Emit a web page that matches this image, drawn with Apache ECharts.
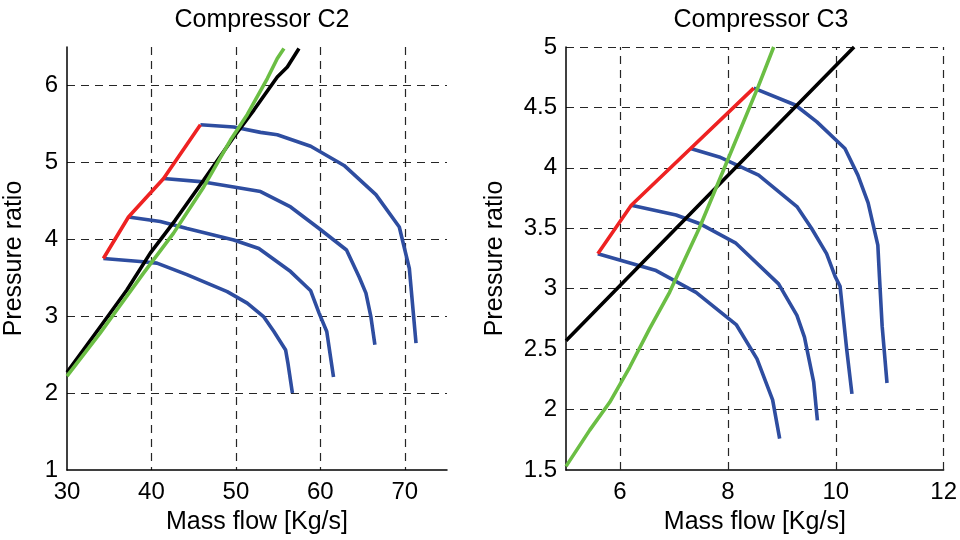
<!DOCTYPE html>
<html><head><meta charset="utf-8">
<script src="https://cdn.jsdelivr.net/npm/echarts@6/dist/echarts.min.js"></script>
<style>html,body{margin:0;padding:0;background:#fff}#c{width:960px;height:540px}</style>
</head><body><div id="c"></div>
<script>
// ---- Compressor C2 (left) ----
const c2Speed1 = [[34.31,3.75],[38.67,3.71],[40.65,3.69],[44.2,3.54],[48.97,3.32],[51.34,3.17],[53.31,2.99],[54.5,2.80],[55.89,2.56],[56.16,2.39],[56.69,2.0]];
const c2Speed2 = [[37.28,4.29],[41.05,4.23],[44.22,4.14],[49.75,3.99],[52.72,3.88],[56.48,3.58],[58.86,3.33],[59.85,3.04],[60.76,2.80],[61.56,2.21]];
const c2Speed3 = [[41.44,4.79],[45.8,4.75],[49.75,4.68],[52.92,4.62],[56.48,4.42],[59.85,4.14],[63.1,3.86],[64.6,3.51],[65.4,3.30],[65.99,2.99],[66.46,2.63]];
const c2Speed4 = [[45.8,5.49],[49.75,5.46],[52.92,5.39],[54.9,5.36],[58.86,5.21],[62.81,4.96],[66.58,4.58],[69.35,4.16],[70.54,3.62],[71.33,2.65]];
const c2Surge = [[34.31,3.75],[37.28,4.29],[41.44,4.79],[45.8,5.49]];
const c2Black = [[30,2.27],[33.92,2.86],[37.09,3.34],[39.86,3.82],[42.83,4.25],[46.19,4.77],[49.75,5.33],[52.13,5.68],[54.9,6.11],[56.09,6.24],[57.47,6.48]];
const c2Green = [[30,2.22],[33.92,2.78],[35.9,3.08],[39.06,3.56],[42.62,4.08],[46.19,4.68],[49.36,5.29],[51.34,5.62],[53.72,6.09],[54.9,6.35],[55.69,6.48]];
// ---- Compressor C3 (right) ----
const c3Speed1 = [[5.59,3.29],[6.67,3.15],[7.41,2.97],[8.16,2.70],[8.54,2.42],[8.83,2.08],[8.96,1.76]];
const c3Speed2 = [[6.21,3.69],[7.04,3.61],[7.47,3.54],[8.14,3.38],[8.94,3.04],[9.28,2.78],[9.42,2.60],[9.59,2.23],[9.66,1.91]];
const c3Speed3 = [[7.31,4.16],[7.84,4.09],[8.57,3.94],[9.28,3.68],[9.55,3.50],[9.83,3.29],[9.99,3.10],[10.08,3.02],[10.2,2.51],[10.3,2.13]];
const c3Speed4 = [[8.48,4.66],[9.25,4.52],[9.65,4.38],[10.17,4.16],[10.41,3.94],[10.6,3.71],[10.78,3.36],[10.81,3.10],[10.86,2.69],[10.95,2.22]];
const c3Surge = [[5.59,3.29],[6.21,3.69],[7.31,4.16],[8.48,4.66]];
const c3Black = [[5,2.57],[7.5,3.71],[10.34,5.0]];
const c3Green = [[5,1.53],[5.44,1.83],[5.81,2.06],[6.18,2.35],[6.55,2.67],[6.92,2.97],[7.22,3.26],[7.47,3.50],[8.02,4.09],[8.57,4.68],[8.85,5.0]];
const c3XTicks = [6,8,10,12];

const titles = ['Compressor C2','Compressor C3'];
const xName = 'Mass flow [Kg/s]';
const yName = 'Pressure ratio';

const BLUE = '#2E4DA0', RED = '#EE2222', GREEN = '#6BBE44', BLACK = '#000000';
const FONT = 'Liberation Sans';
const GRIDDASH = {color:'#262626',type:[8,6],width:1.2};
const chart = echarts.init(document.getElementById('c'), null, {renderer:'canvas'});

function lbl(extra){ return Object.assign({color:'#000',fontSize:24,fontFamily:FONT,margin:9}, extra||{}); }
function axisCommon(extra){
  return Object.assign({
    axisLine:{show:true,onZero:false,lineStyle:{color:'#000',width:1.5}},
    axisTick:{show:false},
    nameTextStyle:{color:'#000',fontSize:25,fontFamily:FONT},
    nameLocation:'middle'
  }, extra);
}
function line(data,color,xi,z){
  return {type:'line',data:data,xAxisIndex:xi,yAxisIndex:xi,showSymbol:false,symbol:'none',
    lineStyle:{color:color,width:3.6},itemStyle:{color:color},z:z||2,animation:false,clip:true};
}
const c3First = line(c3Speed1,BLUE,1);
c3First.markLine = {silent:true,symbol:['none','none'],label:{show:false},animation:false,
  lineStyle:GRIDDASH,emphasis:{disabled:true},
  data:c3XTicks.map(v=>({xAxis:v}))};
c3First.markLine.z = 1;

chart.setOption({
  animation:false,
  title:[
    {text:titles[0],left:257,top:3,textAlign:'center',textStyle:{fontSize:25,fontWeight:'normal',fontFamily:FONT,color:'#000'}},
    {text:titles[1],left:756,top:3,textAlign:'center',textStyle:{fontSize:25,fontWeight:'normal',fontFamily:FONT,color:'#000'}}
  ],
  grid:[
    {left:67,top:47,width:380,height:423},
    {left:566,top:47,width:381,height:423}
  ],
  xAxis:[
    axisCommon({type:'value',gridIndex:0,min:30,max:75,interval:10,name:xName,nameGap:40,
      axisLabel:lbl({margin:10,showMaxLabel:false}),
      splitLine:{show:true,showMaxLine:false,showMinLine:false,lineStyle:GRIDDASH}}),
    axisCommon({type:'value',gridIndex:1,min:5,max:12,interval:1,name:xName,nameGap:40,
      axisLabel:lbl({margin:10,formatter:function(v){return c3XTicks.indexOf(v)>=0?String(v):'';}}),
      splitLine:{show:false}})
  ],
  yAxis:[
    axisCommon({type:'value',gridIndex:0,min:1,max:6.5,interval:1,name:yName,nameGap:40,
      axisLabel:lbl({showMaxLabel:false}),
      splitLine:{show:true,showMaxLine:false,showMinLine:false,lineStyle:GRIDDASH}}),
    axisCommon({type:'value',gridIndex:1,min:1.5,max:5,interval:0.5,name:yName,nameGap:58,
      axisLabel:lbl(),
      splitLine:{show:true,showMinLine:false,lineStyle:GRIDDASH}})
  ],
  series:[
    line(c2Speed1,BLUE,0),line(c2Speed2,BLUE,0),line(c2Speed3,BLUE,0),line(c2Speed4,BLUE,0),
    line(c2Surge,RED,0,3),line(c2Black,BLACK,0,4),line(c2Green,GREEN,0,5),
    c3First,line(c3Speed2,BLUE,1),line(c3Speed3,BLUE,1),line(c3Speed4,BLUE,1),
    line(c3Surge,RED,1,3),line(c3Black,BLACK,1,4),line(c3Green,GREEN,1,5)
  ]
});
</script></body></html>
